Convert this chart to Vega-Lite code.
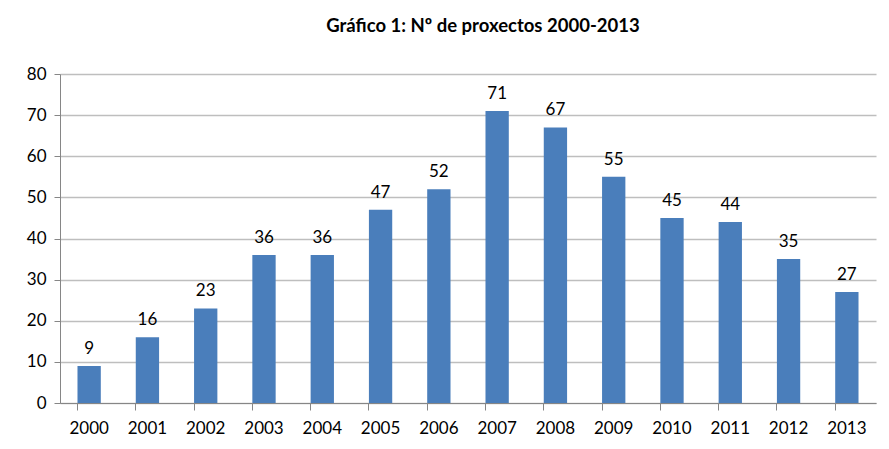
{
  "$schema": "https://vega.github.io/schema/vega-lite/v6.json",
  "width": 816,
  "height": 329,
  "autosize": {"type": "none"},
  "padding": {"left": 60, "top": 74, "right": 13, "bottom": 46},
  "background": "white",
  "title": {
    "text": "Gráfico 1: Nº de proxectos 2000-2013",
    "font": "Lato",
    "fontSize": 18.5,
    "fontWeight": "bold",
    "color": "#000000",
    "anchor": "middle",
    "dx": 15,
    "offset": 30
  },
  "data": {
    "values": [
      {"ano": "2000", "n": 9},
      {"ano": "2001", "n": 16},
      {"ano": "2002", "n": 23},
      {"ano": "2003", "n": 36},
      {"ano": "2004", "n": 36},
      {"ano": "2005", "n": 47},
      {"ano": "2006", "n": 52},
      {"ano": "2007", "n": 71},
      {"ano": "2008", "n": 67},
      {"ano": "2009", "n": 55},
      {"ano": "2010", "n": 45},
      {"ano": "2011", "n": 44},
      {"ano": "2012", "n": 35},
      {"ano": "2013", "n": 27}
    ]
  },
  "encoding": {
    "x": {
      "field": "ano",
      "type": "ordinal",
      "scale": {"paddingInner": 0.6, "paddingOuter": 0.3},
      "axis": {
        "title": null,
        "labelAngle": 0,
        "labelFont": "Lato",
        "labelFontSize": 17,
        "labelColor": "#000000",
        "labelPadding": 10,
        "domainColor": "#868686",
        "tickColor": "#868686",
        "tickSize": 7,
        "bandPosition": 0,
        "grid": false
      }
    },
    "y": {
      "field": "n",
      "type": "quantitative",
      "scale": {"domain": [0, 80]},
      "axis": {
        "title": null,
        "values": [0, 10, 20, 30, 40, 50, 60, 70, 80],
        "labelFont": "Lato",
        "labelFontSize": 17,
        "labelColor": "#000000",
        "labelPadding": 8,
        "domainColor": "#868686",
        "tickColor": "#868686",
        "tickSize": 6,
        "gridColor": "#BEBEBE",
        "gridWidth": 1.5
      }
    }
  },
  "layer": [
    {"mark": {"type": "bar", "color": "#4A7EBB"}},
    {
      "mark": {"type": "text", "baseline": "alphabetic", "dy": -12, "font": "Lato", "fontSize": 17, "color": "#000000"},
      "encoding": {"text": {"field": "n", "type": "quantitative"}}
    }
  ],
  "config": {"view": {"stroke": null}}
}
